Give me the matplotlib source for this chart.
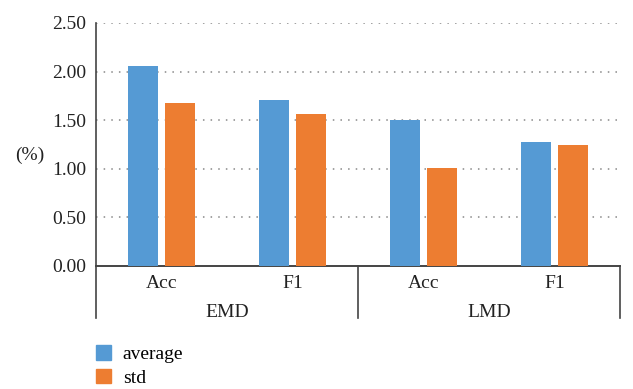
import matplotlib.pyplot as plt
import matplotlib.transforms as mtransforms
from matplotlib.patches import Patch
import numpy as np

plt.rcParams['font.family'] = ['Liberation Serif', 'DejaVu Serif']
plt.rcParams['font.size'] = 14

methods = ['EMD', 'LMD']
metrics = ['Acc', 'F1', 'Acc', 'F1']
average = [2.06, 1.71, 1.50, 1.28]
std = [1.68, 1.56, 1.01, 1.24]
yticks = [0.0, 0.5, 1.0, 1.5, 2.0, 2.5]

blue = '#559AD4'
orange = '#ED7D31'
axis_col = '#444444'
text_col = '#222222'

fig = plt.figure(figsize=(6.33, 3.89), dpi=100)
ax = fig.add_axes([0.1517, 0.3162, 0.8278, 0.6247])

x = np.arange(len(metrics))
w = 0.23
ax.bar(x - 0.14, average, w, color=blue, zorder=3)
ax.bar(x + 0.14, std, w, color=orange, zorder=3)

ax.set_xlim(-0.5, len(metrics) - 0.5)
ax.set_ylim(0, 2.5)
ax.set_yticks(yticks)
ax.set_yticklabels([f'{v:.2f}' for v in yticks], color=text_col)
ax.tick_params(axis='y', length=0, pad=7)
ax.set_xticks([])

# dotted gridlines behind the bars
for v in yticks[1:]:
    ax.axhline(v, color='#888888', linestyle=(0, (1, 4)), linewidth=1.1, zorder=1)

for s in ['top', 'right']:
    ax.spines[s].set_visible(False)
ax.spines['left'].set_color(axis_col)
ax.spines['left'].set_linewidth(1.2)
ax.spines['bottom'].set_color(axis_col)
ax.spines['bottom'].set_linewidth(1.2)

ax.set_ylabel('(%)', rotation=0, va='center', ha='center', color=text_col)
ax.yaxis.set_label_coords(-0.126, 0.457)

# two-level category axis
trans = mtransforms.blended_transform_factory(ax.transData, ax.transAxes)
for i, m in enumerate(metrics):
    ax.text(i, -0.07, m, transform=trans, ha='center', va='center', color=text_col)
for j, g in enumerate(methods):
    ax.text(2 * j + 0.5, -0.19, g, transform=trans, ha='center', va='center', color=text_col)
for xs in [-0.5, 1.5, 3.5]:
    ax.plot([xs, xs], [0, -0.215], transform=trans, color=axis_col, linewidth=1.2, clip_on=False)
ax.plot([-0.5, 3.5], [0, 0], transform=trans, color=axis_col, linewidth=1.2, clip_on=False)

handles = [Patch(color=blue, label='average'), Patch(color=orange, label='std')]
fig.legend(handles=handles, loc='upper left', bbox_to_anchor=(0.14, 0.132),
           frameon=False, handlelength=0.75, handleheight=0.75, handletextpad=0.6,
           labelspacing=0.3, borderaxespad=0)

fig.savefig('out.png', dpi=100)
